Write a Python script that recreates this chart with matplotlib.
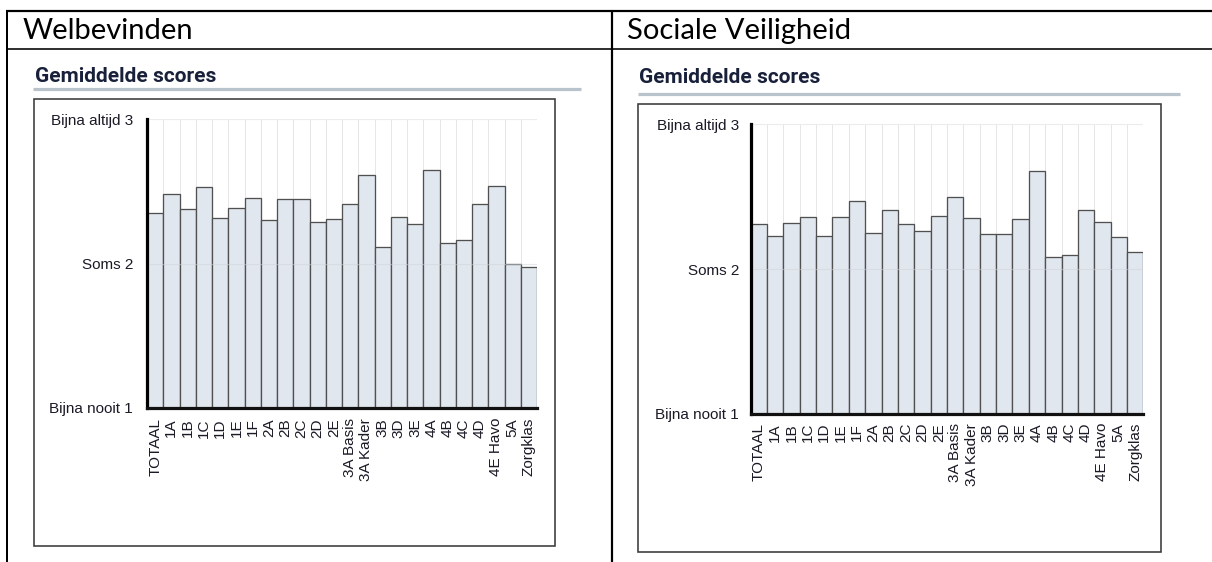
import numpy as np
import matplotlib
matplotlib.use("Agg")
import matplotlib.pyplot as plt
from matplotlib.lines import Line2D
from matplotlib.patches import Rectangle

# ---------------- data ----------------
categories = ["TOTAAL", "1A", "1B", "1C", "1D", "1E", "1F", "2A", "2B", "2C", "2D", "2E",
              "3A Basis", "3A Kader", "3B", "3D", "3E", "4A", "4B", "4C", "4D", "4E Havo",
              "5A", "Zorgklas"]
welbevinden = [2.35, 2.48, 2.375, 2.527, 2.313, 2.384, 2.455, 2.30, 2.446, 2.446, 2.29, 2.31,
               2.41, 2.61, 2.114, 2.32, 2.27, 2.65, 2.144, 2.163, 2.41, 2.536, 1.999, 1.978]
sociale_veiligheid = [2.31, 2.23, 2.32, 2.36, 2.23, 2.36, 2.47, 2.25, 2.41, 2.31, 2.263, 2.365,
                      2.498, 2.355, 2.24, 2.24, 2.346, 2.678, 2.086, 2.095, 2.406, 2.323,
                      2.22, 2.116]
ytick_values = [1, 2, 3]
ytick_labels = ["Bijna nooit 1", "Soms 2", "Bijna altijd 3"]
header_titles = ["Welbevinden", "Sociale Veiligheid"]
chart_title = "Gemiddelde scores"

W, H = 1212, 562
fig = plt.figure(figsize=(W / 100, H / 100), dpi=100)
fig.patch.set_facecolor("white")

# overlay axes in pixel coordinates for table lines, frames, headings
ov = fig.add_axes([0, 0, 1, 1], zorder=0)
ov.set_xlim(0, W)
ov.set_ylim(H, 0)
ov.axis("off")

PX = 72 / 100  # points per pixel

def hline(y, x0, x1, lw, color="black"):
    ov.add_line(Line2D([x0, x1], [y, y], lw=lw * PX, color=color, solid_capstyle="butt"))

def vline(x, y0, y1, lw, color="black"):
    ov.add_line(Line2D([x, x], [y0, y1], lw=lw * PX, color=color, solid_capstyle="butt"))

# table lines
hline(11, 6, W, 2.2)
hline(49, 6, W, 1.6)
vline(7, 10, H, 2.0)
vline(611.7, 10, H, 2.2)

header_font = ["Lato", "Open Sans", "DejaVu Sans"]
title_font = ["Liberation Sans Narrow", "Roboto", "DejaVu Sans"]
tick_font = ["Liberation Sans", "DejaVu Sans"]

panels = [
    dict(header_x=23, title_x=35, title_base=82, gray_y=89, gray_x=(33, 581),
         frame=(34, 99, 555, 546), plot=(147, 119, 537, 408), ypad=14, xpad=10,
         values=welbevinden),
    dict(header_x=627, title_x=639, title_base=83, gray_y=94, gray_x=(638, 1180),
         frame=(638, 104, 1161, 552), plot=(750.7, 124.3, 1143.3, 414), ypad=11.5, xpad=9,
         values=sociale_veiligheid),
]

for header, p in zip(header_titles, panels):
    ov.text(p["header_x"], 39, header, family=header_font, fontsize=21,
            color="black", ha="left", va="baseline")
    ov.text(p["title_x"], p["title_base"], chart_title, family=title_font,
            fontsize=15, fontweight="bold", color="#18203a", ha="left", va="baseline")
    hline(p["gray_y"], p["gray_x"][0], p["gray_x"][1], 3.2, color="#b9c3cc")
    fx0, fy0, fx1, fy1 = p["frame"]
    ov.add_patch(Rectangle((fx0, fy0), fx1 - fx0, fy1 - fy0, fill=False,
                           edgecolor="#3a3a3a", lw=1.6 * PX))

    x0, y0, x1, y1 = p["plot"]
    ax = fig.add_axes([x0 / W, 1 - y1 / H, (x1 - x0) / W, (y1 - y0) / H], zorder=2)
    ax.set_facecolor("none")
    idx = np.arange(len(categories))
    vals = np.array(p["values"])
    ax.bar(idx, vals - 1, bottom=1, width=1.0, color="#e1e7ee",
           edgecolor="#505050", linewidth=1.3 * PX, zorder=2)
    ax.set_xlim(-0.5, len(categories) - 0.5)
    ax.set_ylim(1, 3)
    # grid lines
    for b in np.arange(0.5, len(categories), 1.0):
        ax.axvline(b, color="#e6e6e6", lw=1 * PX, zorder=1)
    ax.axhline(3, color="#ececec", lw=1.2 * PX, zorder=1)
    ax.axhline(2, color="#cfd4da", lw=1.2 * PX, alpha=0.5, zorder=3)

    ax.set_yticks(ytick_values)
    ax.set_yticklabels(ytick_labels, family=tick_font, fontsize=11, color="#1a1a26")
    ax.set_xticks(idx)
    ax.set_xticklabels(categories, rotation=90, family=tick_font, fontsize=11,
                       color="#1a1a26")
    ax.tick_params(axis="y", length=0, pad=p["ypad"] * PX)
    ax.tick_params(axis="x", length=0, pad=p["xpad"] * PX)
    for s in ["top", "right"]:
        ax.spines[s].set_visible(False)
    ax.spines["left"].set_linewidth(3.2 * PX)
    ax.spines["bottom"].set_linewidth(3.2 * PX)
    ax.spines["left"].set_color("black")
    ax.spines["bottom"].set_color("#111111")
    ax.spines["left"].set_zorder(5)
    ax.spines["bottom"].set_zorder(5)

fig.savefig("out.png", dpi=100, facecolor="white")
